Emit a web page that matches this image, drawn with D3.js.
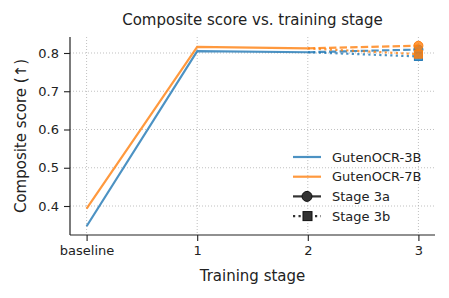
<!DOCTYPE html>
<html>
<head>
<meta charset="utf-8">
<script src="https://cdn.jsdelivr.net/npm/d3@7"></script>
<style>
  body { margin: 0; background: #fff; }
  svg { font-family: "DejaVu Sans", sans-serif; }
</style>
</head>
<body>
<svg id="chart"></svg>
<script>
const stages = ["baseline", "1", "2", "3"];
const models = ["GutenOCR-3B", "GutenOCR-7B"];
const colors = ["#1f77b4", "#ff7f0e"];
// scores for baseline, stage 1, stage 2
const score3B = [0.347, 0.805, 0.802];
const score7B = [0.393, 0.816, 0.812];
// stage 3 variants, per model (3B, 7B)
const stage3a = [0.809, 0.819];
const stage3b = [0.791, 0.797];
const yTicks = [0.4, 0.5, 0.6, 0.7, 0.8];

const width = 449;
const height = 298;
const margin = { top: 37, right: 14, bottom: 63, left: 70 };

const svg = d3.select("#chart")
    .attr("width", width)
    .attr("height", height);

const x = d3.scalePoint()
    .domain(stages)
    .range([margin.left, width - margin.right])
    .padding(0.15);

const y = d3.scaleLinear()
    .domain([0.3242, 0.8418])
    .range([height - margin.bottom, margin.top]);

// grid
const grid = svg.append("g");
grid.selectAll("line.gx")
    .data(stages)
    .enter().append("line")
    .attr("x1", d => x(d)).attr("x2", d => x(d))
    .attr("y1", margin.top).attr("y2", height - margin.bottom)
    .style("stroke", "#b0b0b0").style("stroke-width", 0.8)
    .style("stroke-dasharray", "1,2");
grid.selectAll("line.gy")
    .data(yTicks)
    .enter().append("line")
    .attr("x1", margin.left).attr("x2", width - margin.right)
    .attr("y1", d => y(d)).attr("y2", d => y(d))
    .style("stroke", "#b0b0b0").style("stroke-width", 0.8)
    .style("stroke-dasharray", "1,2");

const line = d3.line().x(d => x(d[0])).y(d => y(d[1]));
const series = [score3B, score7B];

series.forEach((vals, i) => {
    const pts = vals.map((v, j) => [stages[j], v]);
    svg.append("path")
        .datum(pts)
        .attr("d", line)
        .attr("fill", "none")
        .attr("stroke", colors[i])
        .attr("stroke-opacity", 0.8)
        .attr("stroke-width", 2.2);

    svg.append("path")
        .datum([["2", vals[2]], ["3", stage3a[i]]])
        .attr("d", line)
        .attr("fill", "none")
        .attr("stroke", colors[i])
        .attr("stroke-opacity", 0.8)
        .attr("stroke-width", 2.2)
        .attr("stroke-dasharray", "7.4,3.2");
    svg.append("circle")
        .attr("cx", x("3")).attr("cy", y(stage3a[i]))
        .attr("r", 4.5)
        .attr("fill", colors[i]).attr("fill-opacity", 0.8)
        .attr("stroke", colors[i]).attr("stroke-width", 1);

    svg.append("path")
        .datum([["2", vals[2]], ["3", stage3b[i]]])
        .attr("d", line)
        .attr("fill", "none")
        .attr("stroke", colors[i])
        .attr("stroke-opacity", 0.8)
        .attr("stroke-width", 2.2)
        .attr("stroke-dasharray", "2.2,3.3");
    svg.append("rect")
        .attr("x", x("3") - 4).attr("y", y(stage3b[i]) - 4)
        .attr("width", 8).attr("height", 8)
        .attr("fill", colors[i]).attr("fill-opacity", 0.8)
        .attr("stroke", colors[i]).attr("stroke-width", 1);
});

// axes
const xAxis = svg.append("g")
    .attr("transform", `translate(0, ${height - margin.bottom})`)
    .call(d3.axisBottom(x).tickSize(6).tickPadding(5));
const yAxis = svg.append("g")
    .attr("transform", `translate(${margin.left}, 0)`)
    .call(d3.axisLeft(y).tickValues(yTicks).tickFormat(d3.format(".1f")).tickSize(6).tickPadding(5));

[xAxis, yAxis].forEach(a => {
    a.select(".domain").attr("stroke", "#222").attr("stroke-width", 1.2);
    a.selectAll(".tick line").attr("stroke", "#222").attr("stroke-width", 1.1);
    a.selectAll(".tick text")
        .attr("fill", "#222")
        .style("font-size", "13px")
        .style("font-family", "DejaVu Sans");
});
xAxis.select(".domain").attr("d", `M${margin.left},0H${width - margin.right}`);
yAxis.select(".domain").attr("d", `M0,${height - margin.bottom}V${margin.top}`);

// title + labels
svg.append("text")
    .attr("x", (margin.left + width - margin.right) / 2)
    .attr("y", 25)
    .attr("text-anchor", "middle")
    .style("font-size", "15px")
    .style("fill", "#222")
    .text("Composite score vs. training stage");

svg.append("text")
    .attr("x", (margin.left + width - margin.right) / 2)
    .attr("y", 281)
    .attr("text-anchor", "middle")
    .style("font-size", "15px")
    .style("fill", "#222")
    .text("Training stage");

svg.append("text")
    .attr("transform", `translate(26, ${(margin.top + height - margin.bottom) / 2}) rotate(-90)`)
    .attr("text-anchor", "middle")
    .style("font-size", "15px")
    .style("fill", "#222")
    .text("Composite score (↑)");

// legend
const legendItems = [
    { label: models[0], color: colors[0], opacity: 0.8, dash: null, marker: null },
    { label: models[1], color: colors[1], opacity: 0.8, dash: null, marker: null },
    { label: "Stage 3a", color: "#333", opacity: 1, dash: null, marker: "circle" },
    { label: "Stage 3b", color: "#333", opacity: 1, dash: "2.2,3.3", marker: "square" }
];
const legend = svg.append("g").attr("transform", "translate(293, 157)");
legendItems.forEach((d, i) => {
    const g = legend.append("g").attr("transform", `translate(0, ${i * 19.7})`);
    g.append("line")
        .attr("x1", 0).attr("x2", 28)
        .attr("stroke", d.color)
        .attr("stroke-opacity", d.opacity)
        .attr("stroke-width", 2.2)
        .attr("stroke-dasharray", d.dash);
    if (d.marker === "circle") {
        g.append("circle").attr("cx", 14).attr("r", 5)
            .attr("fill", "#333").attr("stroke", "#111");
    } else if (d.marker === "square") {
        g.append("rect").attr("x", 10).attr("y", -4.5).attr("width", 9).attr("height", 9)
            .attr("fill", "#333").attr("stroke", "#111");
    }
    g.append("text")
        .attr("x", 39)
        .attr("dy", "0.36em")
        .style("font-size", "13px")
        .style("fill", "#222")
        .text(d.label);
});
</script>
</body>
</html>
